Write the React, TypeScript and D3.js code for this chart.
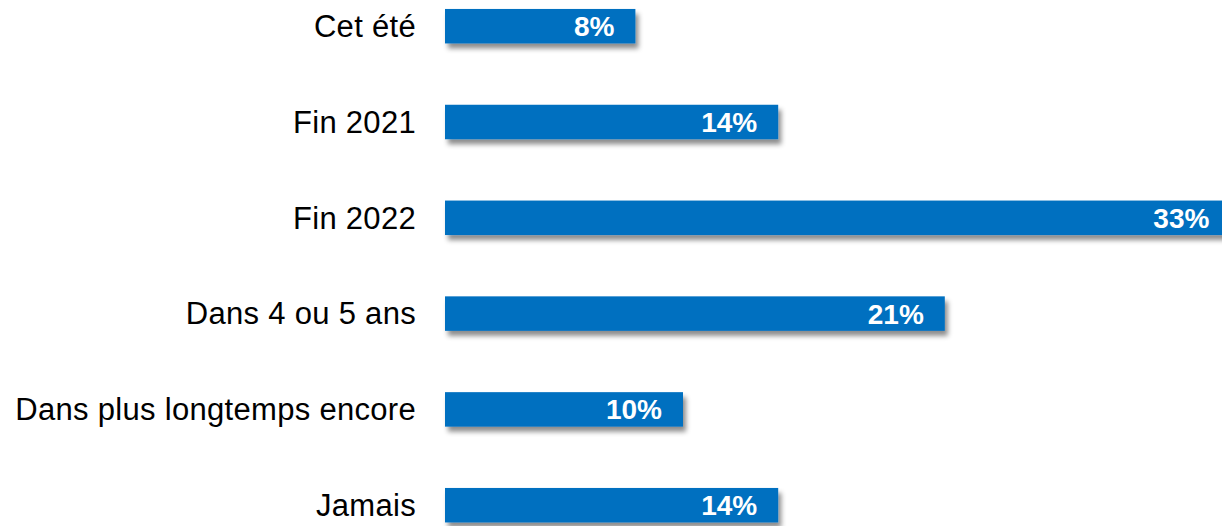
import React from "react";
import * as d3 from "d3";

const categories = ["Cet été", "Fin 2021", "Fin 2022", "Dans 4 ou 5 ans", "Dans plus longtemps encore", "Jamais"];
const values = [8, 14, 33, 21, 10, 14];

const W = 1222;
const H = 526;
const BAR_X0 = 445;

export default function App() {
  const x = d3.scaleLinear().domain([0, 10]).range([BAR_X0, BAR_X0 + 238]);
  const y = d3
    .scaleBand<string>()
    .domain(categories)
    .range([-21.7, 553.1])
    .paddingInner(0.64)
    .paddingOuter(0.32);

  return (
    <svg
      width={W}
      height={H}
      style={{ position: "absolute", left: 0, top: 0, display: "block" }}
      fontFamily="'Liberation Sans', Arial, sans-serif"
    >
      <defs>
        <filter id="shadow" x="-5%" y="-50%" width="115%" height="250%">
          <feDropShadow dx="3" dy="5" stdDeviation="2.5" floodColor="#000" floodOpacity="0.45" />
        </filter>
      </defs>
      <rect width={W} height={H} fill="#fff" />
      {categories.map((c, i) => {
        const yTop = y(c)!;
        const bw = y.bandwidth();
        const xEnd = x(values[i]);
        const cy = yTop + bw / 2;
        return (
          <g key={c}>
            <rect x={x(0)} y={yTop} width={xEnd - x(0)} height={bw} fill="#0070C0" filter="url(#shadow)" />
            <text
              x={416}
              y={cy}
              dy="0.35em"
              textAnchor="end"
              fontSize={31}
              letterSpacing={0.3}
              fill="#000"
            >
              {c}
            </text>
            <text x={xEnd - 21} y={cy} dy="0.36em" textAnchor="end" fontSize={28} fontWeight="bold" fill="#fff">
              {values[i]}%
            </text>
          </g>
        );
      })}
    </svg>
  );
}
